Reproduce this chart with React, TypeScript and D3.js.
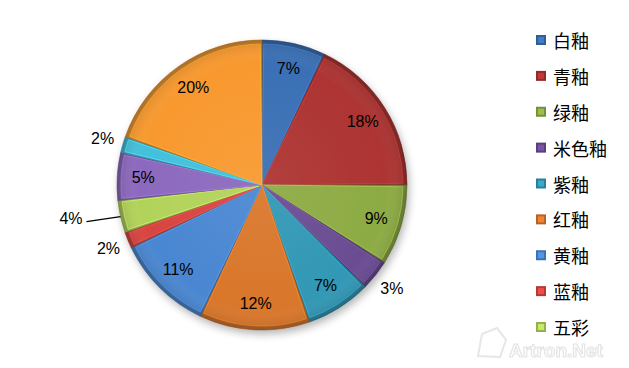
import React from 'react';
import * as d3 from 'd3';

// ---- data ----
const legendLabels = ['白釉', '青釉', '绿釉', '米色釉', '紫釉', '红釉', '黄釉', '蓝釉', '五彩'];
const sliceValues = [7.1, 17.9, 9.0, 3.4, 7.3, 12.3, 10.9, 1.8, 3.6, 5.3, 1.8, 19.6];
const outsideLabelSlices = [3, 7, 10];
const leaderLabelSlices = [8];

// ---- style ----
const sliceColors = [
  '#3a70b5', '#ad3432', '#8dab44', '#6b4c93', '#3298b5', '#d9772b',
  '#4a87d2', '#d84541', '#b2d35a', '#8c69be', '#44c0dc', '#f8992f',
];
const legendColors = sliceColors.slice(0, 9);

const W = 629;
const H = 368;
const cx = 262;
const cy = 185;
const R = 145;

export default function App() {
  const total = d3.sum(sliceValues);
  const pie = d3.pie<number>().sort(null).value((d) => d);
  const arcs = pie(sliceValues);
  const outer = d3.arc<d3.PieArcDatum<number>>().innerRadius(0).outerRadius(R);
  const inner = d3
    .arc<d3.PieArcDatum<number>>()
    .innerRadius(0)
    .outerRadius(R - 4)
    .padAngle(0.035)
    .padRadius(100);
  const inLabel = d3.arc<d3.PieArcDatum<number>>().innerRadius(119).outerRadius(119);
  const outLabel = d3.arc<d3.PieArcDatum<number>>().innerRadius(166).outerRadius(166);
  const edge = d3.arc<d3.PieArcDatum<number>>().innerRadius(R).outerRadius(R);

  const legendY = d3.scalePoint<number>().domain(d3.range(legendLabels.length)).range([40, 327]);

  const pct = (v: number) => `${Math.round((v / total) * 100)}%`;

  return (
    <svg
      width={W}
      height={H}
      style={{ position: 'absolute', left: 0, top: 0, background: '#fff' }}
      fontFamily="'Liberation Sans', Arial, sans-serif"
    >
      <defs>
        <filter id="blur" x="-20%" y="-20%" width="140%" height="140%">
          <feGaussianBlur stdDeviation="4" />
        </filter>
        <radialGradient id="sheen" cx="0.5" cy="0.5" r="0.5">
          <stop offset="0" stopColor="#fff" stopOpacity="0.06" />
          <stop offset="0.85" stopColor="#fff" stopOpacity="0" />
          <stop offset="1" stopColor="#000" stopOpacity="0.12" />
        </radialGradient>
      </defs>
      {/* shadow */}
      <circle cx={cx + 2} cy={cy + 4} r={R} fill="#000" opacity={0.3} filter="url(#blur)" />
      <g transform={`translate(${cx},${cy})`}>
        {arcs.map((a, i) => {
          const c = d3.color(sliceColors[i])!;
          return (
            <g key={i}>
              <path d={outer(a)!} fill={c.darker(0.6).formatHex()} stroke={c.darker(1).formatHex()} strokeWidth={0.6} />
              <path d={inner(a)!} fill={sliceColors[i]} stroke={c.brighter(0.6).formatHex()} strokeOpacity={0.7} strokeWidth={1} />
            </g>
          );
        })}
        <circle r={R} fill="url(#sheen)" />
        {arcs.map((a, i) => {
          if (outsideLabelSlices.includes(i) || leaderLabelSlices.includes(i)) return null;
          const [x, y] = inLabel.centroid(a);
          return (
            <text key={'l' + i} x={x} y={y} textAnchor="middle" dominantBaseline="central" fontSize={16} fill="#000">
              {pct(a.value)}
            </text>
          );
        })}
        {arcs.map((a, i) => {
          if (!outsideLabelSlices.includes(i)) return null;
          const [x, y] = outLabel.centroid(a);
          return (
            <text key={'o' + i} x={x} y={y} textAnchor="middle" dominantBaseline="central" fontSize={16} fill="#000">
              {pct(a.value)}
            </text>
          );
        })}
        {arcs.map((a, i) => {
          if (!leaderLabelSlices.includes(i)) return null;
          const [ex, ey] = edge.centroid(a);
          return (
            <g key={'k' + i}>
              <line x1={ex} y1={ey} x2={ex - 34} y2={ey + 5} stroke="#000" strokeWidth={1.5} />
              <text x={ex - 38} y={ey + 2} textAnchor="end" dominantBaseline="central" fontSize={16} fill="#000">
                {pct(a.value)}
              </text>
            </g>
          );
        })}
      </g>
      {/* legend */}
      {legendLabels.map((lab, i) => {
        const y = legendY(i)!;
        const c = d3.color(legendColors[i])!;
        return (
          <g key={'g' + i}>
            <rect x={536} y={y - 5} width={10} height={10} fill={c.darker(0.5).formatHex()} />
            <rect x={538} y={y - 3} width={6} height={6} fill={c.brighter(0.3).formatHex()} />
            <text
              x={553}
              y={y}
              dominantBaseline="central"
              fontSize={18}
              fontFamily="'Noto Sans CJK SC', sans-serif"
              fill="#000"
            >
              {lab}
            </text>
          </g>
        );
      })}
      {/* watermark */}
      <g opacity={0.9}>
        <polygon points="478,356 482,334 497,328 506,340 500,357" fill="none" stroke="#e4e4e4" strokeWidth={2} />
        <text x={509} y={357} fontSize={19} fontWeight="bold" fill="#fff" stroke="#e2e2e2" strokeWidth={1.2}>
          Artron.Net
        </text>
      </g>
    </svg>
  );
}
